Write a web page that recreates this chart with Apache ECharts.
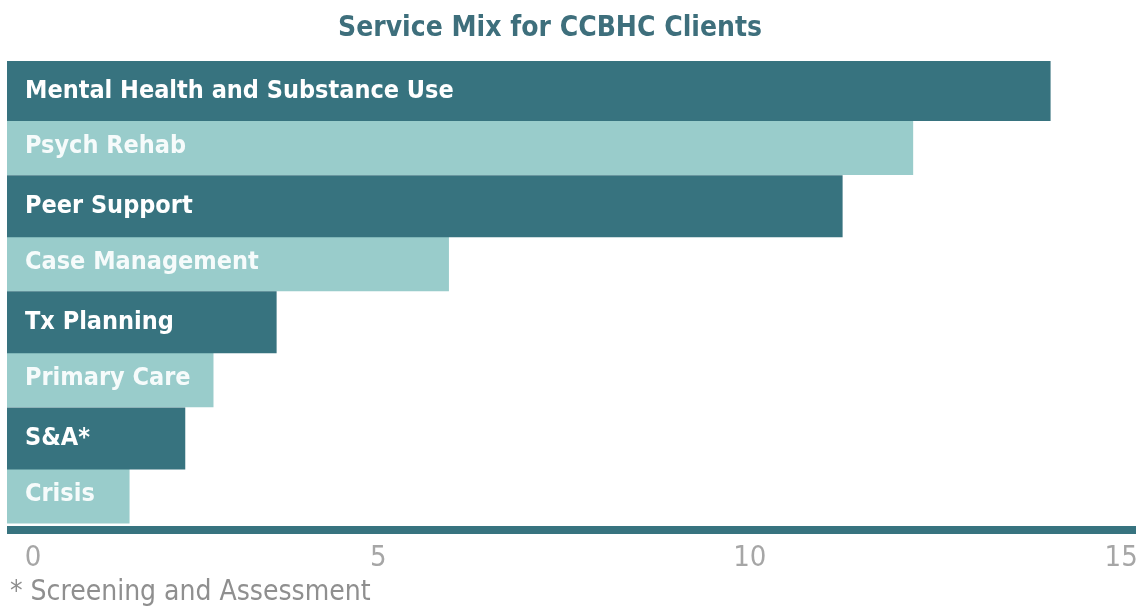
<!DOCTYPE html>
<html>
<head>
<meta charset="utf-8">
<title>Service Mix for CCBHC Clients</title>
<script src="https://cdn.jsdelivr.net/npm/echarts@6/dist/echarts.min.js"></script>
<style>
  html, body { margin: 0; padding: 0; background: #ffffff; }
  #chart { width: 1136px; height: 611px; }
</style>
</head>
<body>
<div id="chart"></div>
<script>
// Service categories, top to bottom
const categories = [
  'Mental Health and Substance Use',
  'Psych Rehab',
  'Peer Support',
  'Case Management',
  'Tx Planning',
  'Primary Care',
  'S&A*',
  'Crisis'
];
// Service mix values per category
const values = [14.05, 12.2, 11.25, 5.95, 3.63, 2.78, 2.4, 1.65];
// Value-axis tick labels
const tickLabels = [0, 5, 10, 15];
const footnote = '* Screening and Assessment';

const DARK = '#37737f';
const LIGHT = '#99cccb';
const FONT = "'Liberation Sans Narrow', 'DejaVu Sans Condensed', 'Open Sans', sans-serif";

// Alternate rows: dark bands on even rows, light bands on odd rows
const darkData = values.map((v, i) => (i % 2 === 0 ? v : null));
const lightData = values.map((v, i) => (i % 2 === 1 ? v : null));

const labelStyle = (color) => ({
  show: true,
  position: 'insideLeft',
  distance: 18,
  color: color,
  fontFamily: FONT,
  fontWeight: 'bold',
  fontSize: 25,
  padding: [4, 0, 0, 0],
  formatter: (p) => categories[p.dataIndex]
});

const chart = echarts.init(document.getElementById('chart'), null, { renderer: 'canvas' });

chart.setOption({
  animation: false,
  backgroundColor: '#ffffff',
  title: {
    text: 'Service Mix for CCBHC Clients',
    left: 545,
    textAlign: 'center',
    top: 10,
    textStyle: {
      color: '#3e6f7c',
      fontFamily: FONT,
      fontWeight: 'bold',
      fontSize: 28
    }
  },
  graphic: [{
    type: 'text',
    left: 10,
    top: 579,
    style: {
      text: footnote,
      fill: '#8f8f8f',
      font: '28px ' + FONT
    }
  }],
  grid: {
    left: 7, right: 0, top: 61, bottom: 85.5,
    containLabel: false,
    outerBoundsMode: 'none'
  },
  xAxis: {
    type: 'value',
    min: 0,
    max: 15.2,
    interval: 5,
    offset: 4,
    splitLine: { show: false },
    axisTick: { show: false },
    axisLine: { show: true, lineStyle: { color: DARK, width: 8, cap: 'butt' } },
    axisLabel: {
      margin: 14,
      color: '#a6a6a6',
      fontFamily: FONT,
      fontSize: 29,
      showMaxLabel: true,
      formatter: (v) => {
        if (tickLabels.indexOf(v) < 0) return '';
        return v === 0 ? '{first|0}' : String(v);
      },
      rich: {
        first: { padding: [0, 0, 0, 52], color: '#a6a6a6', fontFamily: FONT, fontSize: 29 }
      }
    }
  },
  yAxis: {
    type: 'category',
    inverse: true,
    data: categories,
    axisLine: { show: false },
    axisTick: { show: false },
    axisLabel: { show: false },
    splitLine: { show: false }
  },
  series: [
    {
      name: 'light',
      type: 'bar',
      data: lightData,
      barWidth: 58,
      barGap: '-100%',
      itemStyle: { color: LIGHT },
      label: labelStyle('#f6fbfb'),
      z: 2
    },
    {
      name: 'dark',
      type: 'bar',
      data: darkData,
      barWidth: 62,
      barGap: '-100%',
      itemStyle: { color: DARK },
      label: labelStyle('#ffffff'),
      z: 3
    }
  ]
});
</script>
</body>
</html>
